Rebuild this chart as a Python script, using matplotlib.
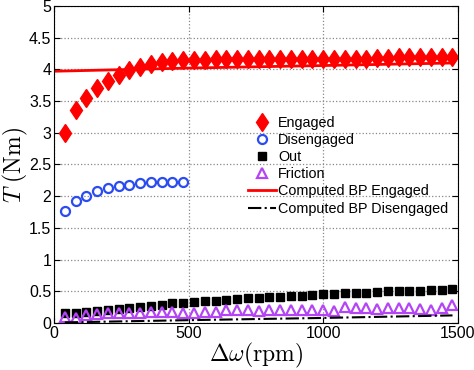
import numpy as np
import matplotlib
matplotlib.use("Agg")
import matplotlib.pyplot as plt

plt.rcParams["font.family"] = ["Liberation Sans", "DejaVu Sans"]
plt.rcParams["mathtext.fontset"] = "cm"

# ── Data ──────────────────────────────────────────────────────
speed = np.arange(40, 1481, 40)          # delta omega, rpm
speed_dis = speed[:12]

engaged = [3.00, 3.36, 3.55, 3.70, 3.82, 3.91, 3.99, 4.04, 4.09, 4.11,
           4.13, 4.14, 4.14, 4.14, 4.16, 4.16, 4.17, 4.17, 4.16, 4.17,
           4.16, 4.16, 4.16, 4.16, 4.16, 4.17, 4.17, 4.17, 4.17, 4.18,
           4.18, 4.19, 4.19, 4.19, 4.19, 4.20, 4.20]

disengaged = [1.76, 1.93, 2.01, 2.08, 2.13, 2.16, 2.18, 2.21, 2.22, 2.22,
              2.23, 2.23]

out = [0.15, 0.16, 0.17, 0.19, 0.21, 0.22, 0.24, 0.25, 0.27, 0.29,
       0.31, 0.32, 0.33, 0.34, 0.35, 0.37, 0.38, 0.39, 0.40, 0.41,
       0.41, 0.42, 0.43, 0.44, 0.45, 0.46, 0.47, 0.48, 0.48, 0.49,
       0.50, 0.50, 0.51, 0.51, 0.52, 0.52, 0.53]

friction = [0.10, 0.08, 0.12, 0.14, 0.15, 0.15, 0.16, 0.16, 0.17, 0.17,
            0.18, 0.15, 0.16, 0.17, 0.17, 0.20, 0.20, 0.20, 0.19, 0.20,
            0.21, 0.21, 0.21, 0.21, 0.21, 0.19, 0.26, 0.23, 0.24, 0.22,
            0.23, 0.24, 0.23, 0.22, 0.21, 0.23, 0.28]

bp_speed = [0, 500, 1000, 1480]
bp_engaged = [3.97, 4.02, 4.06, 4.10]
bp_dis_speed = [40, 500, 1000, 1480]
bp_disengaged = [0.01, 0.045, 0.08, 0.12]

RED = "#ff0000"
BLUE = "#2a4cf0"
PURPLE = "#b444f5"

fig = plt.figure(figsize=(4.74, 3.70), dpi=100)
ax = fig.add_axes([0.114, 0.127, 0.852, 0.857])

ax.plot(speed, engaged, "d", color=RED, markersize=9.5, label="Engaged")
ax.plot(speed_dis, disengaged, "o", color=BLUE, mfc="none", mew=1.6,
        markersize=6.5, label="Disengaged")
ax.plot(speed, out, "s", color="black", markersize=6, label="Out")
ax.plot(speed, friction, "^", color=PURPLE, mfc="none", mew=1.6,
        markersize=7, label="Friction")
ax.plot(bp_speed, bp_engaged, "-", color=RED, lw=2,
        label="Computed BP Engaged")
ax.plot(bp_dis_speed, bp_disengaged, "-.", color="black", lw=1.5,
        label="Computed BP Disengaged")

ax.set_xlim(0, 1500)
ax.set_ylim(0, 5)
ax.set_xticks([0, 500, 1000, 1500])
ax.set_yticks(np.arange(0, 5.01, 0.5))
ax.set_yticklabels(["0", "0.5", "1", "1.5", "2", "2.5", "3", "3.5", "4", "4.5", "5"])
ax.tick_params(direction="in", top=True, right=True, labelsize=11.5,
               length=4, pad=2)
ax.grid(True, linestyle=":", color="#888888", linewidth=0.9)

ax.set_xlabel(r"$\Delta\omega(\mathrm{rpm})$", fontsize=17, labelpad=0)
ax.set_ylabel(r"$T\ (\mathrm{Nm})$", fontsize=17)
ax.yaxis.set_label_coords(-0.06, 0.5)

leg = ax.legend(loc="upper left", bbox_to_anchor=(0.465, 0.672), frameon=False,
                fontsize=10.4, handlelength=2.0, handletextpad=0.1,
                labelspacing=0.22, borderaxespad=0)

fig.savefig("out.png", dpi=100)
